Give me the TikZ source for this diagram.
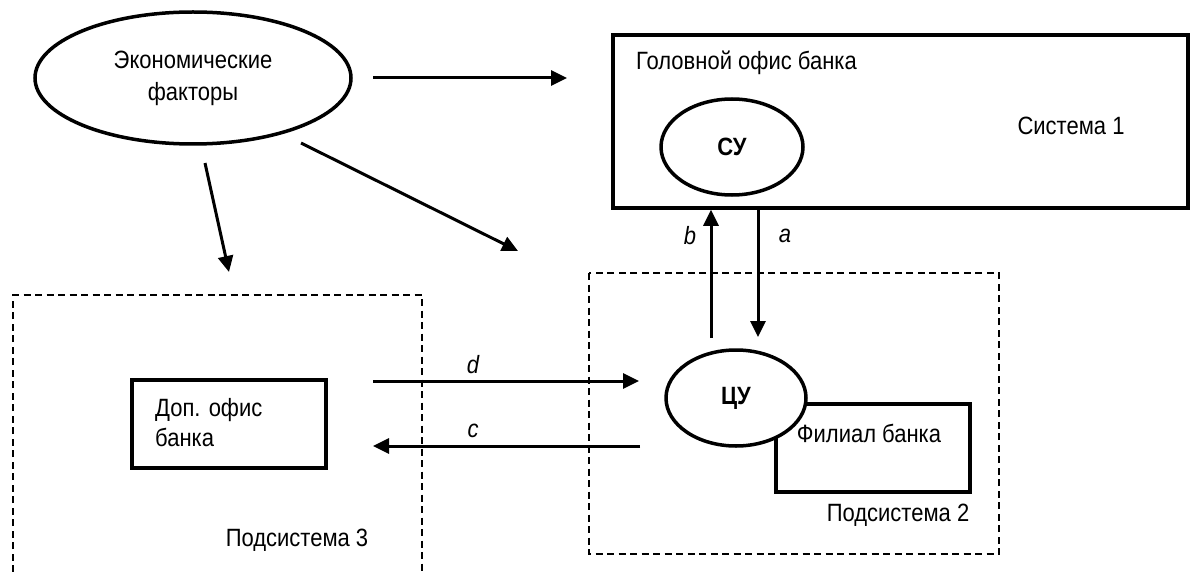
\documentclass[tikz,border=0pt]{standalone}
\usepackage{fontspec}
\setmainfont{Liberation Sans}[FakeStretch=0.88]
\usetikzlibrary{arrows.meta,shapes.geometric}
\begin{document}
\begin{tikzpicture}[x=1pt,y=-1pt,
  every node/.style={font=\fontsize{25}{32}\selectfont},
  solidbox/.style={draw,line width=3.5pt,inner sep=0pt},
  dashbox/.style={draw,line width=2.5pt,dash pattern=on 7pt off 4.5pt},
  oval/.style={draw,ellipse,line width=3.5pt,fill=white,inner sep=0pt},
  conn/.style={line width=3pt,-{Triangle[length=16pt,width=15pt]}},
  lbl/.style={font=\fontsize{25}{30}\selectfont\itshape,inner sep=0pt},
  txt/.style={inner sep=0pt}]
\useasboundingbox (0,0) rectangle (1190,572);
% Economic factors
\node[oval,minimum width=316pt,minimum height=132pt,align=center] (econ) at (193,78)
  {Экономические\\факторы};
% Head office
\node[solidbox,minimum width=575pt,minimum height=173pt] (hob) at (900.5,121.5) {};
\node[txt,anchor=west] (hobt) at (636,63) {Головной офис банка};
\node[txt] (sys1) at (1071,126) {Система 1};
\node[oval,minimum width=142pt,minimum height=96pt,font=\fontsize{25}{30}\selectfont\bfseries] (su) at (732,147) {СУ};
% Subsystem 2
\draw[dashbox] (589,273) rectangle (999,554);
\node[solidbox,minimum width=194pt,minimum height=88pt] (fil) at (873,448) {};
\node[txt] (filt) at (869,433) {Филиал банка};
\node[oval,minimum width=140pt,minimum height=96pt,font=\fontsize{25}{30}\selectfont\bfseries] (cu) at (736,398) {ЦУ};
\node[txt] (sub2) at (898,515) {Подсистема 2};
% Subsystem 3
\draw[dashbox] (13,572) -- (13,295) -- (422,295) -- (422,572);
\node[solidbox,minimum width=194pt,minimum height=88pt] (dop) at (229,424) {};
\node[txt,anchor=west,align=left,font=\fontsize{25}{30}\selectfont] (dopt) at (155,423) {Доп. офис\\банка};
\node[txt] (sub3) at (297,540) {Подсистема 3};
% coordinates
\coordinate (e1) at (373,78);   \coordinate (e1t) at (567,78);
\coordinate (e2) at (205,163);  \coordinate (e2t) at (229,272);
\coordinate (e3) at (301,143);  \coordinate (e3t) at (518,251);
\coordinate (bs) at (711,338);
\coordinate (at) at (758,337);
\coordinate (ds) at (373,381);  \coordinate (dt) at (639,381);
\coordinate (cs) at (640,446);  \coordinate (ct) at (373,446);
% arrows
\draw[conn] (e1) -- (e1t);
\draw[conn] (e2) -- (e2t);
\draw[conn] (e3) -- (e3t);
\draw[conn] (bs) -- (bs |- hob.south);
\draw[conn] (at |- hob.south) -- (at);
\draw[conn] (ds) -- (dt);
\draw[conn] (cs) -- (ct);
% labels
\node[lbl] (lb) at (690,236) {b};
\node[lbl] (la) at (785,236) {a};
\node[lbl] (ld) at (473,365) {d};
\node[lbl] (lc) at (473,431) {c};
\end{tikzpicture}
\end{document}
